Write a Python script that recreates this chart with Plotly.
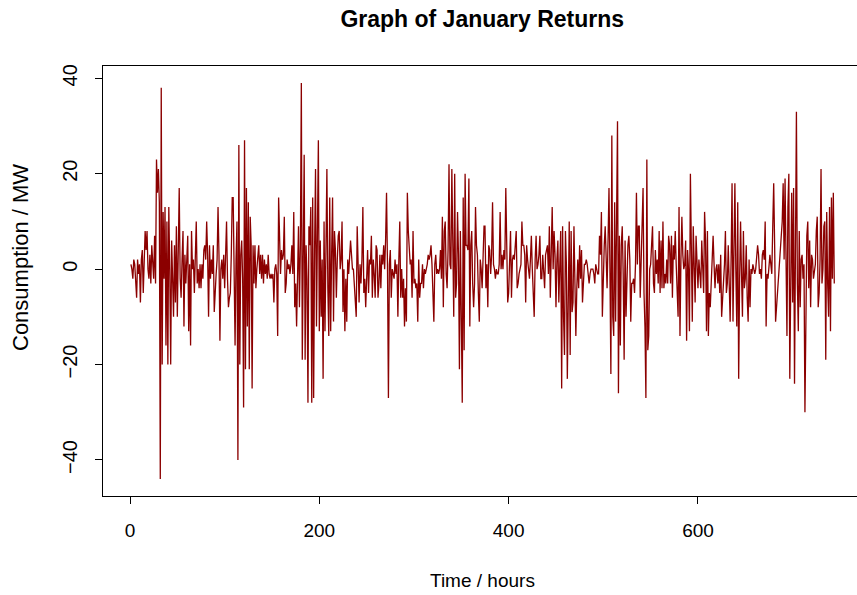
import plotly.graph_objects as go

# Hourly returns (MW) for January, in time order
seg_a = [1, 0, -2, 2, 1, -3, -6, 2, -1, 1,
         -7, 2, 4, -5, 1, 8, 4, 8, 0, -2,
         3, -3, 5, 2, -2, 7, -3, 23, 16, 21,
         14, -44, 38, -20, 12, -2, 13, -16, 10, -20,
         13, 0, -20, 6, -4, -10, 5, -7, 9, -10,
         4, 17, -2, -6, 2, 8, -12, 3, -3, 2,
         7, -13, 1, -16, 8, 0, 2, -5, 2, 10,
         -3, 0, -4, 1]
seg_b = [-4, 1, -2, 4, 5, 2, 10, 3, -10, 5,
         -2, 2, -1, 5, -9, -3, -1, 2, 13, 3,
         -15, 0, 2, -2, 3, -4, 2, 10, -2, -8,
         -6, -5, 3, 15, 15, -3, -16, 2, 10, -40,
         26, -20, 3, 6, -2, -29, 27, -21, 17, -12,
         14, -21, 11, 5, -25, 5, -3, 5, -4, 0,
         2, 5, -1, 3, -2, 3, -3, 2, -1, 1,
         -2, 3, -1, -2, -1, -2, -1, -7, 0, 1,
         -1, -14, 15, 2, -1, 4, 2, 3, 11, -5,
         -3, 2, 0, 1, -1, 1, 5, -1, 12, -8]
seg_c = [-3, -12, 4, 9, -8, 5, 39, -19, 2, 24,
         -19, 5, -2, -28, 9, 5, 13, -28, 15, -27,
         4, 21, -12, 5, 27, -13, 6, -10, 2, -23,
         10, -13, 0, 21, -4, -14, 15, -13, 3, 15,
         -11, 8, 4, -6, 2, 7, 8, 0, 2, 10,
         -9, 0, -13, -2, -11, 2, -1, 2, 6, 3,
         0, 0, -4, -6, -10, 9, -2, -7, 1, -3,
         2, 13, -5, -2, -8, 0, 4, -5, 2, 1,
         7, -6, 2, -1, -6, 5, 4, -6, -3, 3,
         -4, 3, 1, 5, 0, 6, 16, 1, -27, 1]
seg_d = [4, -6, 0, -1, -2, 2, -1, 1, -10, 2,
         10, -6, 0, -6, -2, -12, -4, -11, 16, 8,
         5, 1, 2, -6, 8, -3, -2, -4, -3, -11,
         2, -6, -3, -3, 1, -4, 0, -1, 0, 1,
         3, 2, 3, 5, 1, -6, -11, 1, 3, -1,
         0, -1, 0, 4, -2, 11, -8, 8, 10, -1,
         -4, 4, 22, 1, 0, 21, -3, -10, 20, -6,
         -3, 12, 3, -21, 8, -10, -28, 15, -17, 20,
         5, 5, 4, 19, -12, 5, 8, -3, -8, -3,
         13, 5, 3, -5, -11, 2, 0, -4, 2, 9]
seg_e = [9, -4, 1, -8, 5, 4, -1, 3, 14, 1,
         0, -2, 0, -1, -1, 1, 12, 0, 3, 0,
         4, 2, 17, 0, -7, -5, 1, 8, -6, 2,
         3, 2, 5, 8, -4, -3, -1, 0, 1, 10,
         5, 5, 3, -7, 5, 2, 0, -2, 2, 7,
         0, -4, -10, 2, 7, 0, 1, 3, 7, -2,
         -2, 3, -1, -4, 3, 4, 5, -1, 9, -6,
         5, 13, 0, 8, 3, -8, 2, 6, -7, 2,
         8, -25, 9, -10, -18, 8, 1, -23, 3, 10,
         -18, 8, -9, -7, 9, 0, -14, -4, 2, -4]
seg_f = [5, -2, 4, -7, -3, 1, 1, 2, 1, -2,
         -3, -1, 0, 0, 0, -1, -3, 1, 0, -1,
         -1, 7, 3, 12, -10, 2, 5, 9, 0, -4,
         6, 17, 0, -22, 28, -10, -14, 14, -11, 5,
         31, -26, 7, -16, 5, 9, -1, -19, 6, -10,
         2, 5, 7, 2, -11, -3, -3, -2, -5, 1,
         16, 1, 9, 9, -6, 4, 10, 17, -5, -12,
         -27, 23, -17, -14, 0, 1, 5, 9, -3, -5,
         4, -1, 2, -3, 8, -5, 6, -4, 10, -4,
         -1, -3, 2, -3, 7, 5, -3, 7, -6, 5]
seg_g = [2, 8, 1, -3, -10, 13, -14, 2, 11, 3,
         0, 1, 6, -15, 4, 0, -13, 20, 5, -11,
         9, 0, -7, 7, 3, -4, 2, -1, -4, 6,
         -3, -5, 12, 6, -13, 8, -14, -5, -8, -2,
         0, 7, 1, -4, 0, 1, -3, 1, -5, 3,
         -10, -6, -4, 1, 8, -5, -3, 5, -3, -11,
         2, 18, -11, 3, 18, 0, -12, 14, -23, -2,
         10, -1, -10, 8, -4, -2, 5, -6, -11, 2,
         -8, 0, -1, 1, 0, -1, 0, 2, 5, 3,
         -1, 0, -2, 3, 4, 2, 10, -12, -1, -2]
seg_h = [2, 3, 1, -1, 9, 18, 5, -11, -8, -5,
         -3, 0, 2, 5, 10, 18, 2, 19, -5, -14,
         13, 20, -23, 6, 16, -7, 17, -24, 5, 33,
         -3, -13, 8, -8, 2, 3, -2, 1, -30, -1,
         7, 10, -4, 6, -8, 3, 2, -2, 0, 1,
         8, 11, -8, -5, 2, 21, -3, 0, 9, 10,
         -19, 12, -3, -10, 13, -13, 15, -2, 16, -3]

returns = seg_a + seg_b + seg_c + seg_d + seg_e + seg_f + seg_g + seg_h
hours = list(range(1, len(returns) + 1))

x_ticks = [0, 200, 400, 600]
y_ticks = [-40, -20, 0, 20, 40]

FONT = "Liberation Sans, Arial, Helvetica, sans-serif"

fig = go.Figure(
    go.Scatter(
        x=hours, y=returns, mode="lines",
        line=dict(color="#8B0000", width=1.3),
        hoverinfo="skip", showlegend=False,
    )
)

fig.update_layout(
    width=857, height=595,
    margin=dict(l=103, r=0, t=66, b=99, pad=0),
    paper_bgcolor="white", plot_bgcolor="white",
    font=dict(family=FONT, color="black", size=19),
    title=dict(
        text="<b>Graph of January Returns</b>",
        font=dict(family=FONT, size=23, color="black"),
        x=0.503, xref="paper", xanchor="center",
        y=1 - 19 / 595, yref="container", yanchor="middle",
    ),
    xaxis=dict(
        range=[-28.52, 768.0], tickvals=x_ticks,
        ticktext=[str(v) for v in x_ticks],
        showgrid=False, zeroline=False,
        showline=True, linecolor="black", linewidth=1, mirror=True,
        ticks="outside", ticklen=7, tickwidth=1, tickcolor="black",
        tickfont=dict(size=19), ticklabelstandoff=10,
    ),
    yaxis=dict(
        range=[-47.55, 42.58], tickvals=y_ticks,
        showgrid=False, zeroline=False,
        showline=True, linecolor="black", linewidth=1,
        ticks="outside", ticklen=7, tickwidth=1, tickcolor="black",
        tickfont=dict(size=20), tickangle=-90, ticklabelstandoff=10,
    ),
    annotations=[
        dict(text="Time / hours", xref="paper", yref="paper",
             x=(482 - 103) / 754, y=(496 - 580) / 430,
             xanchor="center", yanchor="middle", showarrow=False,
             font=dict(family=FONT, size=19, color="black")),
        dict(text="Consumption / MW", xref="paper", yref="paper",
             x=(20 - 103) / 754, y=(496 - 258) / 430, textangle=-90,
             xanchor="center", yanchor="middle", showarrow=False,
             font=dict(family=FONT, size=22, color="black")),
    ],
)

if len(returns) != 744:
    raise ValueError("length %d" % len(returns))

fig.write_html("out.html")
